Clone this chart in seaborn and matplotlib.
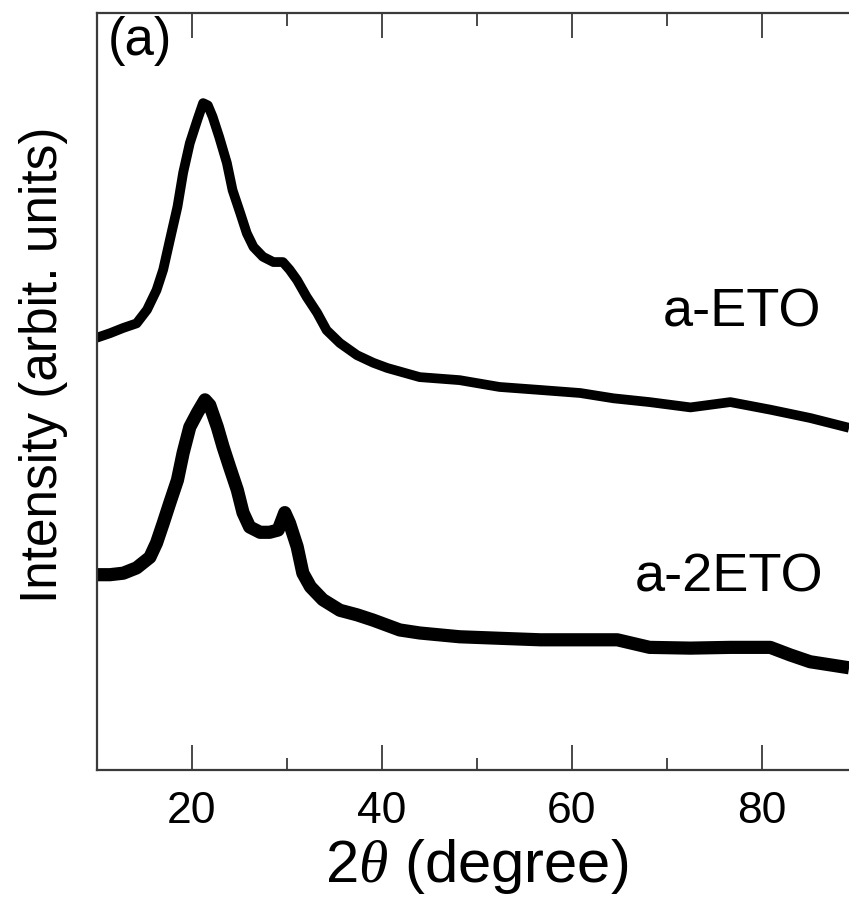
import matplotlib
matplotlib.use("Agg")
import matplotlib.pyplot as plt
import numpy as np
import pandas as pd
import seaborn as sns

# 2theta positions (degree) and intensities (arbitrary units) of the two traces
two_theta_eto = [10.0, 11.4, 12.8, 14.2, 15.3, 16.3, 17.0, 17.7, 18.5, 19.1, 19.8,
                 20.6, 21.2, 21.7, 22.2, 22.9, 23.7, 24.3, 25.1, 25.8, 26.5, 27.5,
                 28.6, 29.6, 30.3, 31.1, 32.1, 33.2, 34.2, 35.6, 37.4, 39.1, 40.6,
                 44.0, 48.2, 52.4, 56.7, 60.9, 64.4, 68.2, 72.5, 76.7, 80.9, 85.1,
                 89.2]
intensity_eto = [57.1, 57.7, 58.4, 59.0, 60.8, 63.4, 66.1, 70.0, 74.4, 78.9, 82.8,
                 85.9, 88.1, 87.8, 86.3, 83.6, 80.2, 76.6, 73.6, 70.9, 69.1, 67.8,
                 67.1, 67.1, 66.1, 64.7, 62.5, 60.4, 58.1, 56.4, 54.8, 53.8, 53.1,
                 51.9, 51.5, 50.6, 50.2, 49.8, 49.1, 48.6, 47.9, 48.6, 47.6, 46.5,
                 45.2]

two_theta_2eto = [10.0, 11.4, 12.8, 14.2, 15.6, 16.3, 17.0, 17.7, 18.5, 19.1, 19.8,
                  20.6, 21.4, 21.9, 22.7, 23.3, 24.0, 24.8, 25.4, 26.1, 27.2, 28.2,
                  29.1, 29.8, 30.3, 31.1, 31.7, 32.5, 33.8, 35.6, 37.4, 39.1, 41.9,
                  44.0, 48.2, 52.4, 56.7, 60.9, 64.8, 68.2, 72.5, 76.7, 80.9, 83.0,
                  85.1, 89.2]
intensity_2eto = [25.8, 25.8, 26.0, 26.7, 28.1, 30.0, 32.6, 35.3, 38.3, 41.9, 45.3,
                  47.2, 48.9, 48.2, 45.3, 42.7, 40.0, 37.0, 34.0, 32.1, 31.4, 31.4,
                  31.7, 34.0, 32.6, 29.5, 26.0, 24.2, 22.5, 21.1, 20.5, 19.8, 18.5,
                  18.1, 17.6, 17.4, 17.2, 17.2, 17.2, 16.2, 16.1, 16.2, 16.2, 15.2,
                  14.3, 13.5]

sample_names = ["a-ETO", "a-2ETO"]
x_ticks_major = [20, 40, 60, 80]
x_ticks_minor = [10, 30, 50, 70, 90]

sns.set_style("ticks")
plt.rcParams["font.family"] = ["Liberation Sans", "DejaVu Sans"]
plt.rcParams["mathtext.fontset"] = "custom"
plt.rcParams["mathtext.it"] = "Liberation Serif:italic"
plt.rcParams["mathtext.rm"] = "Liberation Sans"
plt.rcParams["text.color"] = "black"
plt.rcParams["axes.labelcolor"] = "black"
plt.rcParams["xtick.labelcolor"] = "black"

W, H = 849, 905
fig = plt.figure(figsize=(W / 100, H / 100), dpi=100)
left_px, right_px, top_px, bottom_px = 96.7, 856.7, 13, 770
ax = fig.add_axes([left_px / W, 1 - bottom_px / H,
                   (right_px - left_px) / W, (bottom_px - top_px) / H])

df_eto = pd.DataFrame({"two_theta": two_theta_eto, "intensity": intensity_eto})
df_2eto = pd.DataFrame({"two_theta": two_theta_2eto, "intensity": intensity_2eto})

sns.lineplot(data=df_eto, x="two_theta", y="intensity", ax=ax, color="black",
             linewidth=7.0, sort=False, estimator=None,
             solid_joinstyle="round", solid_capstyle="butt")
sns.lineplot(data=df_2eto, x="two_theta", y="intensity", ax=ax, color="black",
             linewidth=9.5, sort=False, estimator=None,
             solid_joinstyle="round", solid_capstyle="butt")

ax.set_xlim(10, 90)
ax.set_ylim(0, 100)

spine_color = "#3a3a3a"
for side in ["left", "bottom", "top", "right"]:
    ax.spines[side].set_color(spine_color)
    ax.spines[side].set_linewidth(1.6)
    ax.spines[side].set_visible(True)

ax.set_xticks(x_ticks_major)
ax.set_xticks(x_ticks_minor, minor=True)
ax.set_xticklabels([str(t) for t in x_ticks_major])
ax.set_yticks([])
ax.tick_params(axis="x", which="major", direction="in", length=18, width=1.3,
               color=spine_color, top=True, bottom=True, labelsize=32, pad=15)
ax.tick_params(axis="x", which="minor", direction="in", length=9, width=1.3,
               color=spine_color, top=True, bottom=True)

ax.set_xlabel(r"2$\theta$ (degree)", fontsize=43, labelpad=4)
ax.set_ylabel("Intensity (arbit. units)", fontsize=37, labelpad=20)
ax.yaxis.set_label_coords(-0.038, 0.535)

ax.text(11.2, 99.6, "(a)", fontsize=38, ha="left", va="top")
ax.text(86.3, 60.4, sample_names[0], fontsize=39, ha="right", va="center")
ax.text(86.5, 25.4, sample_names[1], fontsize=39, ha="right", va="center")

fig.savefig("out.png", dpi=100)
